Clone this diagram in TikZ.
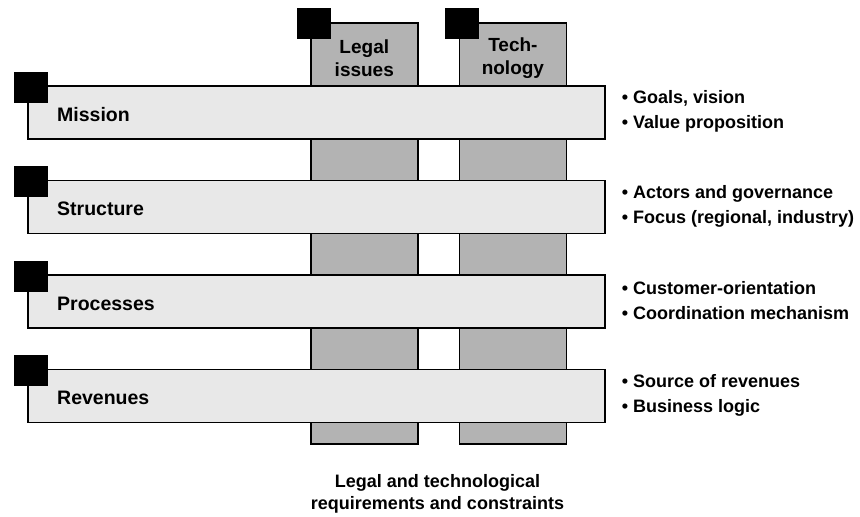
\documentclass[tikz,border=0pt]{standalone}
\usepackage{fontspec}
\setmainfont{Liberation Sans}
\usetikzlibrary{positioning}
\definecolor{bar-gray}{HTML}{E8E8E8}
\definecolor{pillar-gray}{HTML}{B3B3B3}
\tikzset{
    layer-bar/.style = {draw=black, fill=bar-gray, line width=1.6pt, rectangle, minimum width=577pt, minimum height=53pt, inner sep=0pt},
    pillar-box/.style = {draw=black, fill=pillar-gray, line width=1.6pt, rectangle, minimum width=107pt, minimum height=421pt, inner sep=0pt},
    corner-mark/.style = {fill=black, rectangle, minimum width=34pt, minimum height=31pt, inner sep=0pt},
    bar-title/.style = {font=\bfseries\fontsize{19.5}{22}\selectfont, anchor=west, inner sep=0pt},
    bullet-list/.style = {font=\bfseries\fontsize{18}{25}\selectfont, align=left, anchor=west, inner sep=0pt},
    pillar-title/.style = {font=\bfseries\fontsize{19}{23}\selectfont, align=center, inner sep=0pt},
}

\begin{document}
\begin{tikzpicture}[x=1pt, y=-1pt]
\useasboundingbox (0,0) rectangle (860,517);

% the two pillars run behind the bars
\node[pillar-box, anchor=north west] (legal) at (310,22) {};
\node[pillar-box, right=40pt of legal] (tech) {};
\node[pillar-title] at ([yshift=-36pt]legal.north) {Legal\\issues};
\node[pillar-title] at ([yshift=-36pt]tech.north) {Tech-\\nology};
\node[corner-mark] at ([xshift=3.5pt,yshift=-1pt]legal.north west) {};
\node[corner-mark] at ([xshift=3.5pt,yshift=-1pt]tech.north west) {};

% the four bars
\node[layer-bar, anchor=north west] (mission) at (27,85) {};
\node[layer-bar, below=40pt of mission] (structure) {};
\node[layer-bar, below=40pt of structure] (processes) {};
\node[layer-bar, below=40pt of processes] (revenues) {};

\node[corner-mark] at ([xshift=3.5pt,yshift=-2pt]mission.north west) {};
\node[corner-mark] at ([xshift=3.5pt,yshift=-2pt]structure.north west) {};
\node[corner-mark] at ([xshift=3.5pt,yshift=-2pt]processes.north west) {};
\node[corner-mark] at ([xshift=3.5pt,yshift=-2pt]revenues.north west) {};

\node[bar-title] at ([xshift=30pt,yshift=-2pt]mission.west) {Mission};
\node[bar-title] at ([xshift=30pt,yshift=-2pt]structure.west) {Structure};
\node[bar-title] at ([xshift=30pt,yshift=-2pt]processes.west) {Processes};
\node[bar-title] at ([xshift=30pt,yshift=-2pt]revenues.west) {Revenues};

% what each bar stands for
\node[bullet-list] at ([xshift=16pt,yshift=1pt]mission.east) {\textbullet{} Goals, vision\\\textbullet{} Value proposition};
\node[bullet-list] at ([xshift=16pt,yshift=1pt]structure.east) {\textbullet{} Actors and governance\\\textbullet{} Focus (regional, industry)};
\node[bullet-list] at ([xshift=16pt,yshift=1pt]processes.east) {\textbullet{} Customer-orientation\\\textbullet{} Coordination mechanism};
\node[bullet-list] at ([xshift=16pt,yshift=1pt]revenues.east) {\textbullet{} Source of revenues\\\textbullet{} Business logic};

\node[pillar-title, font=\bfseries\fontsize{18}{22}\selectfont] (constraints) at (437.5,494) {Legal and technological\\requirements and constraints};
\end{tikzpicture}
\end{document}
